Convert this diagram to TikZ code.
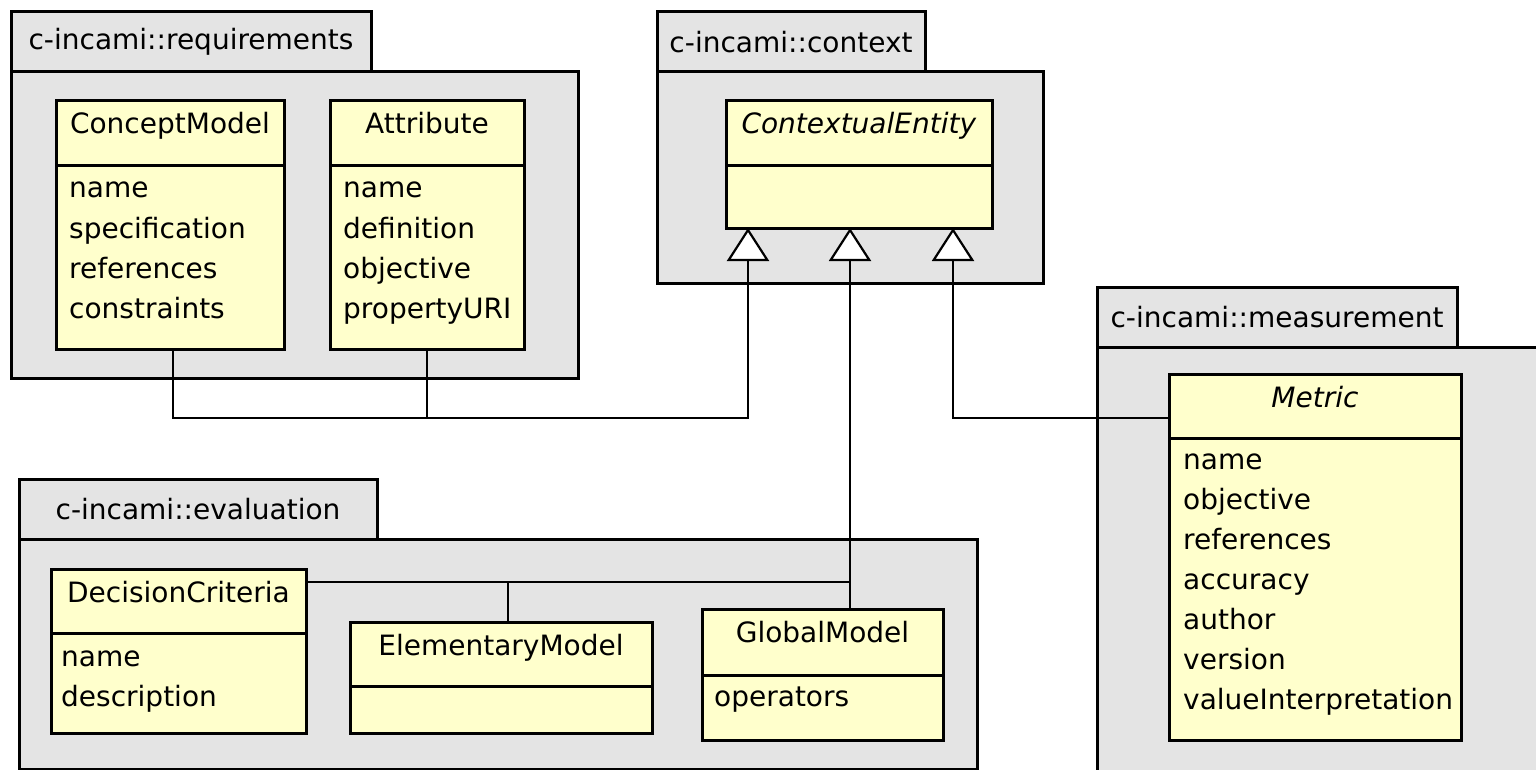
\documentclass[tikz,border=0pt]{standalone}
\usepackage{fontspec}
\setmainfont{DejaVu Sans}
\usepackage{xcolor}
\usetikzlibrary{arrows.meta}
\definecolor{pkggray}{HTML}{E4E4E4}
\definecolor{clsyellow}{HTML}{FFFFCC}

\begin{document}
\begin{tikzpicture}[x=1pt, y=-1pt, font=\fontsize{28}{40}\selectfont,
    pkg/.style={draw=black, fill=pkggray, line width=3pt, inner sep=0pt, outer sep=0pt, anchor=north west},
    cls/.style={draw=black, fill=clsyellow, line width=3pt, inner sep=0pt, outer sep=0pt, anchor=north west},
    title/.style={anchor=base, inner sep=0pt},
    attr/.style={anchor=base west, inner sep=0pt},
    link/.style={draw=black, line width=2.2pt},
    gen/.style={-{Triangle[length=33pt, width=42pt, fill=white]}}]

  \useasboundingbox (0,0) rectangle (1536,770);
  \clip (0,0) rectangle (1536,770);

  % packages
  \foreach \nm/\x/\y/\tw/\bw/\bh/\txt in {req/11/12/360/567/306/requirements, ctx/657/12/268/386/211/context, msr/1097/287/360/460/440/measurement, evl/19/479/358/958/230/evaluation}{%
    \node[pkg, minimum width=\bw, minimum height=\bh] (\nm body) at (\x, \y+60) {};
    \node[pkg, minimum width=\tw, minimum height=60] (\nm tab) at (\x, \y) {};
    \node (\nm label) at (\nm tab.center) {c-incami::\txt};
  }

  % classes
  \foreach \nm/\x/\y/\w/\hh/\bh in {cm/56/101/228/65/183, at/330/101/194/65/183, ce/726/101/266/65/62, mt/1169/374/292/64/302, dc/51/569/255/64/100, em/350/622/302/64/47, gm/702/609/241/66/65}{%
    \node[cls, minimum width=\w, minimum height=\hh] (\nm head) at (\x, \y) {};
    \node[cls, minimum width=\w, minimum height=\bh] (\nm body) at (\nm head.south west) {};
  }
  \foreach \nm/\txt in {cm/ConceptModel, at/Attribute, ce/\textit{ContextualEntity}, mt/\textit{Metric}, dc/DecisionCriteria, em/ElementaryModel, gm/GlobalModel}{%
    \node[title] (\nm title) at ([yshift=-33pt]\nm head.north) {\txt};
  }

  % attributes
  \foreach \t [count=\i from 0] in {name, specification, references, constraints}
    \node[attr] (cmattr\i) at ([xshift=13pt, yshift={-(32+40*\i)}]cmbody.north west) {\t};
  \foreach \t [count=\i from 0] in {name, definition, objective, propertyURI}
    \node[attr] (atattr\i) at ([xshift=13pt, yshift={-(32+40*\i)}]atbody.north west) {\t};
  \foreach \t [count=\i from 0] in {name, objective, references, accuracy, author, version, valueInterpretation}
    \node[attr] (mtattr\i) at ([xshift=14pt, yshift={-(31+40*\i)}]mtbody.north west) {\t};
  \foreach \t [count=\i from 0] in {name, description}
    \node[attr] (dcattr\i) at ([xshift=10pt, yshift={-(33+40*\i)}]dcbody.north west) {\t};
  \node[attr] (gmattr0) at ([xshift=12pt, yshift=-31pt]gmbody.north west) {operators};

  % generalisations
  \coordinate (tipA) at ([xshift=22pt]cebody.south west);
  \coordinate (tipB) at ([xshift=124pt]cebody.south west);
  \coordinate (tipC) at ([xshift=227pt]cebody.south west);
  \coordinate (reqjoin) at (tipA |- 0,418);
  \coordinate (evljoin) at (tipB |- 0,582);
  \coordinate (msrport) at (mthead.west |- 0,418);
  \coordinate (cmport) at ([xshift=3pt]cmbody.south);
  \coordinate (emport) at ([xshift=7pt]emhead.north);

  \draw[link, gen] (cmport) |- (reqjoin) -- (tipA);
  \draw[link] (atbody.south) -- (atbody.south |- reqjoin);
  \draw[link, gen] (gmhead.north -| tipB) -- (tipB);
  \draw[link] (dchead.east |- evljoin) -- (evljoin);
  \draw[link] (emport) -- (emport |- evljoin);
  \draw[link, gen] (msrport) -| (tipC);
\end{tikzpicture}
\end{document}
